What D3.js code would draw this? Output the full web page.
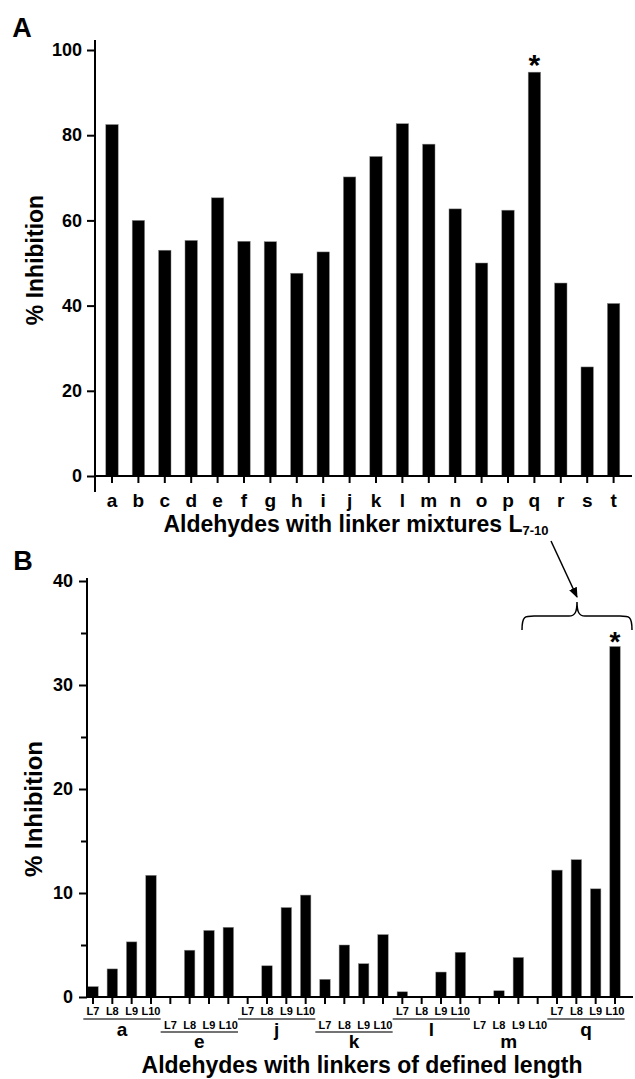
<!DOCTYPE html>
<html lang="en">
<head>
    <meta charset="UTF-8">
    <script src="https://d3js.org/d3.v7.min.js"></script>
    <style>
        body {
            margin: 0;
            padding: 0;
            background: #ffffff;
        }
        svg {
            display: block;
            font-family: 'Liberation Sans', Arial, sans-serif;
            font-weight: bold;
        }
        .bar {
            fill: #000000;
            stroke: #888;
            stroke-width: 0.5;
        }
        .axis path {
            display: none;
        }
        .axis line,
        .axline {
            stroke: #000;
            stroke-width: 2;
        }
        .axis text {
            fill: #000;
            font-family: 'Liberation Sans', Arial, sans-serif;
            font-weight: bold;
        }
    </style>
</head>
<body>
    <svg id="chart" width="635" height="1079"></svg>

    <script>
        // Panel A: aldehydes with linker mixtures
        const lettersA = ["a", "b", "c", "d", "e", "f", "g", "h", "i", "j",
                          "k", "l", "m", "n", "o", "p", "q", "r", "s", "t"];
        const valuesA = [82.5, 60, 53, 55.3, 65.3, 55.1, 55, 47.6, 52.6, 70.2,
                         75, 82.7, 77.9, 62.7, 50, 62.4, 94.8, 45.3, 25.6, 40.5];
        const ticksA = [0, 20, 40, 60, 80, 100];

        // Panel B: aldehydes with linkers of defined length
        const groupsB = ["a", "e", "j", "k", "l", "m", "q"];
        const linkersB = ["L7", "L8", "L9", "L10"];
        const valuesB = [
            [1.0, 2.7, 5.3, 11.7],   // a
            [0, 4.5, 6.4, 6.7],      // e
            [0, 3.0, 8.6, 9.8],      // j
            [1.7, 5.0, 3.2, 6.0],    // k
            [0.5, 0, 2.4, 4.3],      // l
            [0, 0.6, 3.8, 0],        // m
            [12.2, 13.2, 10.4, 33.7] // q
        ];
        const ticksB = [0, 10, 20, 30, 40];
        const minorTicksB = [5, 15, 25, 35];

        const svg = d3.select("#chart");

        // ---------- Panel A ----------
        const gA = svg.append("g");

        const xA = d3.scaleBand()
            .domain(lettersA)
            .range([98.8, 626.8])
            .paddingInner(0.53)
            .paddingOuter(0.265);

        const yA = d3.scaleLinear()
            .domain([0, 100])
            .range([476, 50]);

        gA.selectAll(".bar")
            .data(lettersA)
            .enter()
            .append("rect")
            .attr("class", "bar")
            .attr("x", d => xA(d))
            .attr("width", xA.bandwidth())
            .attr("y", (d, i) => yA(valuesA[i]))
            .attr("height", (d, i) => yA(0) - yA(valuesA[i]));

        // y axis
        gA.append("g")
            .attr("class", "axis")
            .attr("transform", `translate(95,0)`)
            .call(d3.axisLeft(yA).tickValues(ticksA).tickSize(8).tickPadding(5))
            .selectAll("text").style("font-size", "18px");

        gA.append("line")
            .attr("class", "axline")
            .attr("x1", 95).attr("x2", 95)
            .attr("y1", yA(100) - 10).attr("y2", yA(0) + 16);

        // x axis
        gA.append("g")
            .attr("class", "axis")
            .attr("transform", `translate(0,${yA(0)})`)
            .call(d3.axisBottom(xA).tickSize(7).tickPadding(11))
            .selectAll("text").style("font-size", "19px");

        gA.append("line")
            .attr("class", "axline")
            .attr("x1", 95).attr("x2", 632)
            .attr("y1", yA(0)).attr("y2", yA(0));

        // asterisk over q
        const qi = lettersA.indexOf("q");
        gA.append("text")
            .attr("x", xA("q") + xA.bandwidth() / 2)
            .attr("y", yA(valuesA[qi]) + 3)
            .attr("text-anchor", "middle")
            .style("font-size", "30px")
            .text("*");

        // titles
        gA.append("text")
            .attr("x", 22)
            .attr("y", 37)
            .attr("text-anchor", "middle")
            .style("font-size", "27px")
            .text("A");

        gA.append("text")
            .attr("transform", `translate(43,260) rotate(-90)`)
            .attr("text-anchor", "middle")
            .style("font-size", "23px")
            .text("% Inhibition");

        const tA = gA.append("text")
            .attr("x", 356)
            .attr("y", 532)
            .attr("text-anchor", "middle")
            .style("font-size", "23px");
        tA.append("tspan").text("Aldehydes with linker mixtures L");
        tA.append("tspan")
            .attr("dy", 3)
            .style("font-size", "13px")
            .text("7-10");

        // ---------- Panel B ----------
        const gB = svg.append("g");

        const slotsB = [];
        groupsB.forEach((g, gi) => {
            linkersB.forEach((l, li) => {
                slotsB.push({ key: g + "-" + l, group: g, gi: gi, linker: l, value: valuesB[gi][li] });
            });
        });

        const xB = d3.scaleBand()
            .domain(slotsB.map(d => d.key))
            .range([87, 621])
            .paddingInner(0.46)
            .paddingOuter(0.04);

        const yB = d3.scaleLinear()
            .domain([0, 40])
            .range([997, 581]);

        gB.selectAll(".bar")
            .data(slotsB.filter(d => d.value > 0))
            .enter()
            .append("rect")
            .attr("class", "bar")
            .attr("x", d => xB(d.key))
            .attr("width", xB.bandwidth())
            .attr("y", d => yB(d.value))
            .attr("height", d => yB(0) - yB(d.value));

        // y axis
        gB.append("g")
            .attr("class", "axis")
            .attr("transform", `translate(87,0)`)
            .call(d3.axisLeft(yB).tickValues(ticksB).tickSize(8).tickPadding(6))
            .selectAll("text").style("font-size", "18px");

        gB.append("g")
            .attr("class", "axis")
            .attr("transform", `translate(87,0)`)
            .call(d3.axisLeft(yB).tickValues(minorTicksB).tickSize(6).tickFormat(""));

        gB.append("line")
            .attr("class", "axline")
            .attr("x1", 87).attr("x2", 87)
            .attr("y1", yB(40) - 3).attr("y2", yB(0));

        // x axis (ticks only)
        gB.append("g")
            .attr("class", "axis")
            .attr("transform", `translate(0,${yB(0)})`)
            .call(d3.axisBottom(xB).tickSize(7).tickFormat(""));

        gB.append("line")
            .attr("class", "axline")
            .attr("x1", 87).attr("x2", 633)
            .attr("y1", yB(0)).attr("y2", yB(0));

        // linker labels in two alternating rows
        const rowY = [
            { lab: 1015, line: 1019, letter: 1036 },
            { lab: 1029, line: 1032, letter: 1048 }
        ];
        const cx = key => xB(key) + xB.bandwidth() / 2;

        gB.selectAll(".lab")
            .data(slotsB)
            .enter()
            .append("text")
            .attr("class", "lab")
            .attr("x", d => cx(d.key))
            .attr("y", d => rowY[d.gi % 2].lab)
            .attr("text-anchor", "middle")
            .style("font-size", "11px")
            .text(d => d.linker);

        groupsB.forEach((g, gi) => {
            const r = rowY[gi % 2];
            const first = cx(g + "-L7"), last = cx(g + "-L10");
            const step = xB.step();
            if (g !== "m") {
                gB.append("line")
                    .attr("x1", first - step / 2)
                    .attr("x2", last + step / 2)
                    .attr("y1", r.line).attr("y2", r.line)
                    .attr("stroke", "#444")
                    .attr("stroke-width", 1.5);
            }
            gB.append("text")
                .attr("x", (first + last) / 2)
                .attr("y", r.letter)
                .attr("text-anchor", "middle")
                .style("font-size", "19px")
                .text(g);
        });

        // asterisk over q L10
        gB.append("text")
            .attr("x", cx("q-L10"))
            .attr("y", yB(valuesB[6][3]) + 4)
            .attr("text-anchor", "middle")
            .style("font-size", "28px")
            .text("*");

        // brace and arrow linking q in A to q group in B
        const bL = cx("q-L7") - 35, bR = 632, bM = 577;
        const bTop = 602, bMid = 616, bEnd = 630;
        gB.append("path")
            .attr("d", `M${bL},${bEnd} C${bL},${bMid} ${bL + 3},${bMid} ${bL + 12},${bMid}
                        L${bM - 8},${bMid} C${bM - 2},${bMid} ${bM},${bMid - 4} ${bM},${bTop}
                        C${bM},${bMid - 4} ${bM + 2},${bMid} ${bM + 8},${bMid}
                        L${bR - 12},${bMid} C${bR - 3},${bMid} ${bR},${bMid} ${bR},${bEnd}`)
            .attr("fill", "none")
            .attr("stroke", "#000")
            .attr("stroke-width", 1.5);

        svg.append("defs").append("marker")
            .attr("id", "arr")
            .attr("viewBox", "0 0 10 10")
            .attr("refX", 9).attr("refY", 5)
            .attr("markerWidth", 7).attr("markerHeight", 7)
            .attr("orient", "auto")
            .append("path")
            .attr("d", "M0,1 L10,5 L0,9 Z")
            .attr("fill", "#000");

        gB.append("line")
            .attr("x1", 551).attr("y1", 541)
            .attr("x2", bM).attr("y2", bTop - 5)
            .attr("stroke", "#000")
            .attr("stroke-width", 1.5)
            .attr("marker-end", "url(#arr)");

        // titles
        gB.append("text")
            .attr("x", 23)
            .attr("y", 570)
            .attr("text-anchor", "middle")
            .style("font-size", "27px")
            .text("B");

        gB.append("text")
            .attr("transform", `translate(42,809) rotate(-90)`)
            .attr("text-anchor", "middle")
            .style("font-size", "24px")
            .text("% Inhibition");

        gB.append("text")
            .attr("x", 362)
            .attr("y", 1073)
            .attr("text-anchor", "middle")
            .style("font-size", "23px")
            .text("Aldehydes with linkers of defined length");
    </script>
</body>
</html>
